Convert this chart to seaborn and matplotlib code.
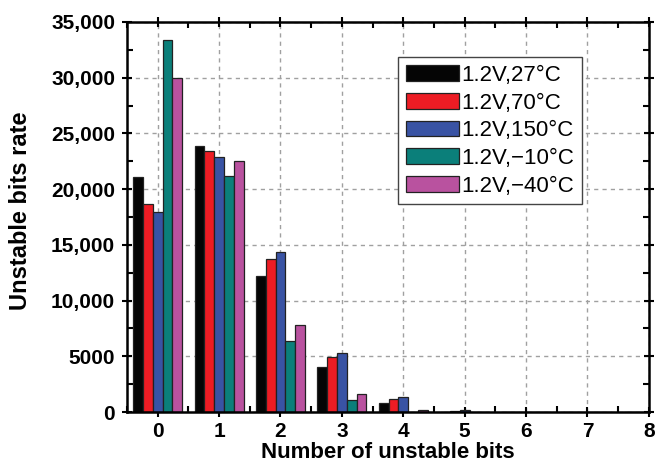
import matplotlib
matplotlib.use("Agg")
import matplotlib.pyplot as plt
import seaborn as sns
import pandas as pd
from matplotlib.ticker import MultipleLocator

# data
bits = [0, 1, 2, 3, 4, 5, 6, 7, 8]
conditions = ["1.2V,27°C", "1.2V,70°C", "1.2V,150°C", "1.2V,\u221210°C", "1.2V,\u221240°C"]
rate_27 = [21100, 23900, 12200, 4000, 810, 30, 0, 0, 0]
rate_70 = [18650, 23400, 13700, 4900, 1200, 120, 0, 0, 0]
rate_150 = [17950, 22900, 14350, 5300, 1320, 200, 0, 0, 0]
rate_m10 = [33400, 21200, 6350, 1050, 30, 10, 0, 0, 0]
rate_m40 = [29950, 22500, 7800, 1650, 220, 10, 0, 0, 0]
colors = ["#050505", "#ed1c24", "#3953a4", "#0b7f7a", "#b9529f"]
ytick_vals = [0, 5000, 10000, 15000, 20000, 25000, 30000, 35000]
ytick_labels = ["0", "5000", "10,000", "15,000", "20,000", "25,000", "30,000", "35,000"]

rows = []
for cond, vals in zip(conditions, [rate_27, rate_70, rate_150, rate_m10, rate_m40]):
    for b, v in zip(bits, vals):
        rows.append({"bits": b, "rate": v, "cond": cond})
df = pd.DataFrame(rows)

sns.set_style("ticks")
plt.rcParams.update({
    "font.family": ["Liberation Sans", "DejaVu Sans"],
    "text.color": "black",
    "axes.labelcolor": "black",
    "xtick.color": "black",
    "ytick.color": "black",
})

fig = plt.figure(figsize=(6.56, 4.63), dpi=100)
ax = fig.add_axes([0.1936, 0.110, 0.7954, 0.8425])

sns.barplot(data=df, x="bits", y="rate", hue="cond", order=bits, hue_order=conditions,
            palette=colors, saturation=1, edgecolor="#222222", linewidth=0.9, width=0.8,
            ax=ax, errorbar=None)

ax.set_xlim(-0.5, 8)
ax.set_ylim(0, 35000)
ax.set_xticks(range(9))
ax.set_xticklabels([str(b) for b in bits], fontsize=15, fontweight="bold")
ax.xaxis.set_minor_locator(MultipleLocator(0.5))
ax.set_yticks(ytick_vals)
ax.set_yticklabels(ytick_labels, fontsize=15, fontweight="bold")
ax.yaxis.set_minor_locator(MultipleLocator(2500))

ax.grid(True, which="major", color="#a0a0a0", linestyle=(0, (3, 3)), linewidth=1)
ax.set_axisbelow(True)

for s in ax.spines.values():
    s.set_color("black")
    s.set_linewidth(1.8)
    s.set_visible(True)

ax.tick_params(which="major", direction="inout", length=7, width=1.5, top=True, right=True,
               labeltop=False, labelright=False)
ax.tick_params(axis="y", which="major", pad=5)
ax.tick_params(axis="x", which="major", pad=4)
ax.tick_params(which="minor", direction="in", length=4, width=1.5, top=True, right=True)

ax.set_xlabel("Number of unstable bits", fontsize=16, fontweight="bold")
ax.xaxis.label.set_va("baseline")
ax.xaxis.set_label_coords(0.5, -0.118)
ax.set_ylabel("Unstable bits rate", fontsize=17, fontweight="bold")
ax.yaxis.set_label_coords(-0.183, 0.515)

leg = ax.legend(loc="upper left", bbox_to_anchor=(0.519, 0.91), fontsize=16,
                frameon=True, fancybox=False, edgecolor="#444444", framealpha=1,
                handlelength=2.4, handleheight=0.7, handletextpad=0.1,
                labelspacing=0.3, borderpad=0.35, borderaxespad=0)
leg.get_frame().set_linewidth(1.0)

fig.savefig("out.png", dpi=100)
